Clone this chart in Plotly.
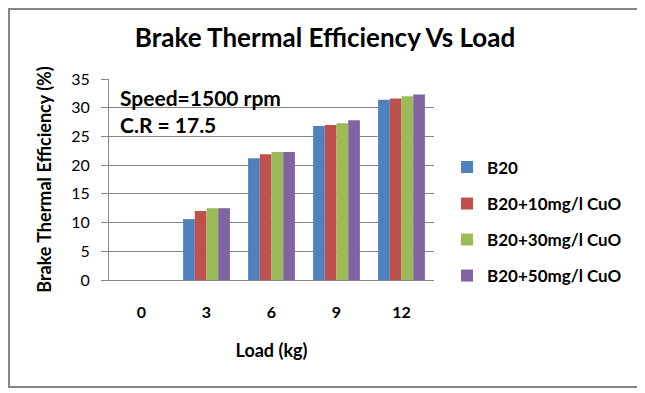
import plotly.graph_objects as go

loads = ["0", "3", "6", "9", "12"]
series_names = ["B20", "B20+10mg/l CuO", "B20+30mg/l CuO", "B20+50mg/l CuO"]
b20 = [0, 10.6, 21.2, 26.8, 31.4]
b20_10 = [0, 12.0, 21.9, 27.0, 31.6]
b20_30 = [0, 12.5, 22.3, 27.3, 32.0]
b20_50 = [0, 12.5, 22.3, 27.8, 32.3]
y_ticks = [0, 5, 10, 15, 20, 25, 30, 35]
colors = ["#4F81BD", "#C0504D", "#9BBB59", "#8064A2"]

# page has an 8px body margin: work in page pixels and shift
OFF = 8
W, H = 645 - OFF, 393 - OFF
L, R, T, B = 109 - OFF, 434 - OFF, 79 - OFF, 280 - OFF  # plot area (figure px)
pw, ph = R - L, B - T

def px(x):
    return (x - OFF - L) / pw

def py(y):
    return (B - (y - OFF)) / ph

FONT = "Lato"

fig = go.Figure()
all_vals = [b20, b20_10, b20_30, b20_50]
legend_y = [167.5, 204, 240, 276]
for i, (name, vals) in enumerate(zip(series_names, all_vals)):
    lg = "legend" if i == 0 else f"legend{i+1}"
    fig.add_trace(go.Bar(x=loads, y=vals, name=f"<b>{name}</b>", marker_color=colors[i],
                         marker_line_width=0, legend=lg))

layout_legends = {}
for i in range(4):
    key = "legend" if i == 0 else f"legend{i+1}"
    layout_legends[key] = dict(
        x=px(447), y=py(legend_y[i]), xanchor="left", yanchor="middle",
        bgcolor="rgba(0,0,0,0)", borderwidth=0,
        font=dict(family=FONT, size=17, color="#000000"),
        itemwidth=30, tracegroupgap=0,
    )

fig.update_layout(
    width=W, height=H,
    margin=dict(l=L, r=W - R, t=T, b=H - B, pad=0),
    paper_bgcolor="white", plot_bgcolor="white",
    bargap=0.28, bargroupgap=0, barmode="group",
    showlegend=True,
    title=dict(text="<b>Brake Thermal Efficiency Vs Load</b>", x=(325 - OFF) / W, xanchor="center",
               y=1 - (38 - OFF) / H, yanchor="middle",
               font=dict(family=FONT, size=26, color="#000000")),
    xaxis=dict(type="category", showline=True, linecolor="#868686", linewidth=1,
               showgrid=False, ticks="", tickfont=dict(family=FONT, size=16, color="#000000"),
               ticklabelstandoff=18, tickprefix="<b>", ticksuffix="</b>",
               title=dict(text="<b>Load (kg)</b>", font=dict(family=FONT, size=18, color="#000000"), standoff=24)),
    yaxis=dict(range=[0, 35], tickvals=y_ticks, showline=True, linecolor="#868686", linewidth=1,
               showgrid=True, gridcolor="#868686", gridwidth=1, zeroline=False,
               ticks="outside", ticklen=7, tickcolor="#868686",
               tickfont=dict(family=FONT, size=16, color="#000000"),
               tickprefix="<b>", ticksuffix="</b>", ticklabelstandoff=8,
               title=dict(text="<b>Brake Thermal Efficiency (%)</b>", font=dict(family=FONT, size=18, color="#000000"), standoff=14)),
    **layout_legends,
)

fig.add_annotation(text="<b>Speed=1500 rpm</b>", xref="paper", yref="paper", x=px(118), y=py(97),
                   xanchor="left", yanchor="middle", showarrow=False,
                   font=dict(family=FONT, size=21, color="#000000"))
fig.add_annotation(text="<b>C.R = 17.5</b>", xref="paper", yref="paper", x=px(118), y=py(124),
                   xanchor="left", yanchor="middle", showarrow=False,
                   font=dict(family=FONT, size=21, color="#000000"))

fig.add_shape(type="rect", xref="paper", yref="paper",
              x0=px(OFF + 1), x1=px(640), y0=py(387), y1=py(OFF + 1),
              line=dict(color="#868686", width=2), fillcolor="rgba(0,0,0,0)", layer="below")

fig.write_html("out.html")
